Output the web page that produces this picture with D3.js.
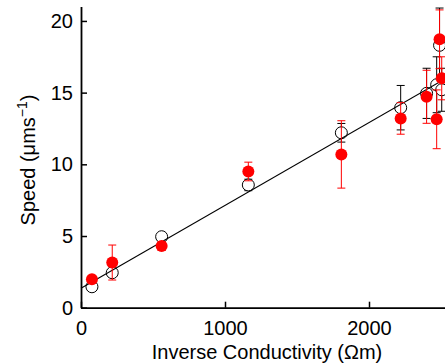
<!DOCTYPE html>
<html><head><meta charset="utf-8">
<script src="https://cdn.jsdelivr.net/npm/d3@7"></script>
<style>html,body{margin:0;padding:0;background:#fff;overflow:hidden}</style>
</head><body>
<svg id="c" width="445" height="364"></svg>
<script>
const xVals   = [76, 217, 560, 1162, 1808, 2220, 2400, 2470, 2490, 2505];
const openY   = [1.46, 2.44, 4.95, 8.56, 12.2, 13.95, 14.95, 15.55, 18.3, 15.2];
const openErr = [0.15, 0.25, 0.2, 0.4, 0.65, 1.55, 1.75, 1.95, 2.6, 1.5];
const redY    = [1.98, 3.15, 4.30, 9.50, 10.69, 13.2, 14.71, 13.14, 18.72, 16.0];
const redErr  = [0.15, 1.22, 0.3, 0.65, 2.35, 1.1, 1.85, 2.05, 2.05, 1.5];
const fitX = [0, 2600];
const fitY = [1.35, 16.38];
const xTicks = [0, 1000, 2000];
const yTicks = [0, 5, 10, 15, 20];

const svg = d3.select("#c");
const font = "'Liberation Sans', Arial, sans-serif";
const x = d3.scaleLinear().domain([0, 2600]).range([81, 455.4]);
const y = d3.scaleLinear().domain([0, 21]).range([307.7, 6.6]);

function errBars(ys, errs, color, cls) {
  const g = svg.append("g").attr("class", cls);
  xVals.forEach((xv, i) => {
    const cx = x(xv), t = y(ys[i] + errs[i]), b = y(ys[i] - errs[i]);
    g.append("line").attr("x1", cx).attr("x2", cx).attr("y1", t).attr("y2", b)
      .attr("stroke", color).attr("stroke-width", 1);
    [t, b].forEach(yy => g.append("line").attr("x1", cx - 4).attr("x2", cx + 4)
      .attr("y1", yy).attr("y2", yy).attr("stroke", color).attr("stroke-width", 1));
  });
}
errBars(openY, openErr, "#000", "open-err");
svg.append("g").selectAll("circle").data(xVals).join("circle")
  .attr("cx", d => x(d)).attr("cy", (d, i) => y(openY[i])).attr("r", 6)
  .attr("fill", "#fff").attr("stroke", "#000").attr("stroke-width", 1);

// fit line
svg.append("line")
  .attr("x1", x(fitX[0])).attr("y1", y(fitY[0]))
  .attr("x2", x(fitX[1])).attr("y2", y(fitY[1]))
  .attr("stroke", "#000").attr("stroke-width", 1.1);

errBars(redY, redErr, "#ff0000", "red-err");
svg.append("g").selectAll("circle").data(xVals).join("circle")
  .attr("cx", d => x(d)).attr("cy", (d, i) => y(redY[i])).attr("r", 6)
  .attr("fill", "#ff0000");

// axes
const xAxis = d3.axisBottom(x).tickValues(xTicks).tickSizeInner(-6).tickSizeOuter(0).tickPadding(13).tickFormat(d3.format("d"));
const gx = svg.append("g").attr("transform", "translate(0,307.7)").call(xAxis);
const yAxis = d3.axisLeft(y).tickValues(yTicks).tickSizeInner(-6).tickSizeOuter(0).tickPadding(8);
const gy = svg.append("g").attr("transform", "translate(81,0)").call(yAxis);
[gx, gy].forEach(g => {
  g.select(".domain").attr("stroke", "#000").attr("stroke-width", 1.8);
  g.selectAll(".tick line").attr("stroke", "#000").attr("stroke-width", 1.5);
  g.selectAll("text").attr("font-family", font).attr("font-size", 20).attr("fill", "#000");
});
gx.selectAll(".tick text").attr("dy", "0.71em");

svg.append("text").attr("x", 267).attr("y", 358.5).attr("text-anchor", "middle")
  .attr("font-family", font).attr("font-size", 20).text("Inverse Conductivity (\u03A9m)");
const yl = svg.append("text").attr("transform", "translate(35,160) rotate(-90)")
  .attr("text-anchor", "middle").attr("font-family", font).attr("font-size", 20);
yl.append("tspan").text("Speed (\u03BCms");
yl.append("tspan").attr("dy", -8).attr("font-size", 14).text("\u22121");
yl.append("tspan").attr("dy", 8).text(")");
</script>
</body></html>
